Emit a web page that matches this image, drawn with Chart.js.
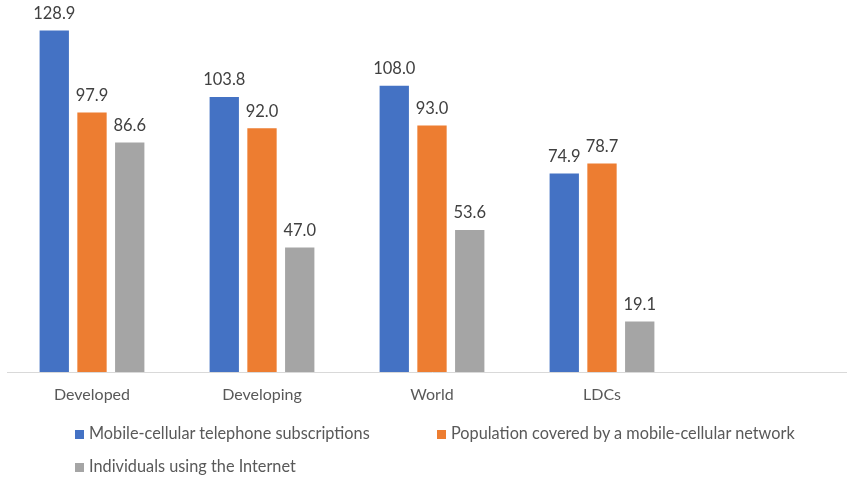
<!DOCTYPE html>
<html>
<head>
<meta charset="utf-8">
<script src="https://cdn.jsdelivr.net/npm/chart.js@4"></script>
<style>
  html, body { margin: 0; padding: 0; background: #fff; overflow: hidden; }
  #wrap { position: relative; width: 847px; height: 479px; overflow: hidden; }
  #holder { position: absolute; left: 0; top: 0; width: 857px; height: 479px; }
  .leg { position: absolute; font-family: Lato, "Open Sans", sans-serif; font-size: 16.3px; color: #595959; white-space: nowrap; line-height: 18px; }
  .leg i { display: inline-block; width: 9px; height: 9px; margin-right: 5px; vertical-align: 0px; }
</style>
</head>
<body>
<div id="wrap">
  <div id="holder"><canvas id="c" width="857" height="479"></canvas></div>
  <div class="leg" style="left:75px; top:424px;"><i style="background:#4472C4"></i>Mobile-cellular telephone subscriptions</div>
  <div class="leg" style="left:437px; top:424px;"><i style="background:#ED7D31"></i>Population covered by a mobile-cellular network</div>
  <div class="leg" style="left:75px; top:457px;"><i style="background:#A5A5A5"></i>Individuals using the Internet</div>
</div>
<script>
// Country groups (the last slot is left empty)
const categories = ["Developed", "Developing", "World", "LDCs", ""];
// Per 100 inhabitants / % of population
const mobileSubscriptions = [128.9, 103.8, 108.0, 74.9];
const populationCovered = [97.9, 92.0, 93.0, 78.7];
const internetUsers = [86.6, 47.0, 53.6, 19.1];

const seriesNames = [
  "Mobile-cellular telephone subscriptions",
  "Population covered by a mobile-cellular network",
  "Individuals using the Internet"
];
const seriesColors = ["#4472C4", "#ED7D31", "#A5A5A5"];

// Writes each bar's value just above it
const valueLabels = {
  id: "valueLabels",
  afterDatasetsDraw(chart) {
    const ctx = chart.ctx;
    ctx.save();
    ctx.font = "16.5px Lato, 'Open Sans', sans-serif";
    ctx.fillStyle = "#404040";
    ctx.textAlign = "center";
    ctx.textBaseline = "middle";
    chart.data.datasets.forEach((ds, i) => {
      const meta = chart.getDatasetMeta(i);
      meta.data.forEach((bar, j) => {
        const v = ds.data[j];
        if (v == null) return;
        ctx.fillText(v.toFixed(1), bar.x, bar.y - 17);
      });
    });
    ctx.restore();
  }
};

const seriesData = [mobileSubscriptions, populationCovered, internetUsers];

new Chart(document.getElementById("c"), {
  type: "bar",
  data: {
    labels: categories,
    datasets: seriesData.map((d, i) => ({
      label: seriesNames[i],
      data: d,
      backgroundColor: seriesColors[i],
      borderWidth: 0,
      categoryPercentage: 0.666,
      barPercentage: 0.777
    }))
  },
  options: {
    responsive: false,
    animation: false,
    layout: { padding: { left: 7, right: 0, top: 1, bottom: 0 } },
    plugins: { legend: { display: false }, tooltip: { enabled: false } },
    scales: {
      x: {
        grid: { display: false, drawTicks: false },
        border: { display: true, color: "#D9D9D9", width: 1 },
        ticks: {
          padding: 13,
          color: "#595959",
          font: { family: "Lato, 'Open Sans', sans-serif", size: 16 },
          maxRotation: 0,
          autoSkip: false
        },
        afterFit(scale) { scale.height = 107; }
      },
      y: {
        display: false,
        min: 0,
        max: 140
      }
    }
  },
  plugins: [valueLabels]
});
</script>
</body>
</html>
